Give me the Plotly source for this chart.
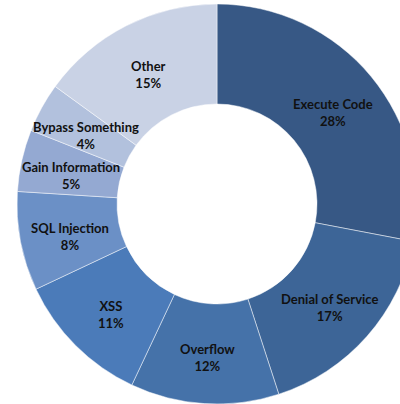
import math
import plotly.graph_objects as go

# Parts du gâteau, dans le sens horaire depuis midi
categories = ["Execute Code", "Denial of Service", "Overflow", "XSS",
              "SQL Injection", "Gain Information", "Bypass Something", "Other"]
valeurs = [28, 17, 12, 11, 8, 5, 4, 15]
couleurs = ["#375885", "#3d6597", "#4572a9", "#4b7bb9",
            "#6b90c6", "#94a9d2", "#b2c1dd", "#c9d2e5"]

# Géométrie (pixels) - le donut dépasse à droite et en bas, comme l'original
cx, cy, rayon = 217, 208, 200
W, H = cx + rayon, cy + rayon

fig = go.Figure()
fig.add_trace(
    go.Pie(
        labels=categories,
        values=valeurs,
        hole=0.5,
        sort=False,
        direction="clockwise",
        rotation=0,
        textinfo="none",
        hoverinfo="skip",
        marker=dict(colors=couleurs, line=dict(color="rgba(255,255,255,0.6)", width=0.8)),
        showlegend=False,
        domain=dict(x=[(cx - rayon) / W, 1], y=[0, 1]),
    )
)

# Étiquettes au milieu de l'anneau
total = sum(valeurs)
cumul = 0
for nom, v in zip(categories, valeurs):
    angle = (cumul + v / 2) / total * 2 * math.pi
    cumul += v
    r = rayon * 0.75
    x = cx + r * math.sin(angle)
    y = cy - r * math.cos(angle)
    fig.add_annotation(
        x=x / W, y=1 - y / H, xref="paper", yref="paper",
        text=f"<b>{nom}<br>{round(v / total * 100)}%</b>",
        showarrow=False, xanchor="center", yanchor="middle",
        font=dict(family="Lato, sans-serif", size=13, color="#111111"),
    )

fig.update_layout(
    width=W, height=H,
    margin=dict(l=0, r=0, t=0, b=0),
    paper_bgcolor="white",
    plot_bgcolor="white",
)

# pas de marge de page, pas de barres de défilement, pas de modebar
fig.write_html(
    "out.html",
    config={"displayModeBar": False},
    post_script="document.body.style.margin='0';document.body.style.overflow='hidden';",
)
